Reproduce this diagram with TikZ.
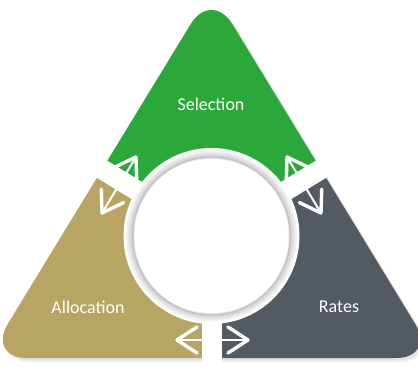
\documentclass[tikz,border=0pt]{standalone}
\usepackage{fontspec}
\setmainfont{Carlito}
\usetikzlibrary{calc}
\definecolor{selgreen}{RGB}{44,168,58}
\definecolor{allogold}{RGB}{184,165,99}
\definecolor{rategrey}{RGB}{84,90,97}
\begin{document}
\begin{tikzpicture}[x=1pt,y=-1pt,
  lbl/.style={text=white,font=\fontsize{18}{20}\selectfont},
  shaft/.style={draw=white, line width=2pt},
  chev/.style={draw=white, line width=3.4pt, line cap=round, line join=round},
  gap/.style={draw=white, line width=20pt}]
\useasboundingbox (0,0) rectangle (418,367);
\coordinate (C) at (211.5,236);
\def\tripath{(211.5,358) [rounded corners=40pt] -- (436,358) -- (211.5,-10) -- (-13,358) -- cycle}
% soft shadow
\foreach \o/\c in {4/5,3/8,2/11}{
  \fill[black!\c, xshift=\o pt, yshift=-\o pt] \tripath;
}
% pieces
\begin{scope}
  \clip (C) -- (-44.7,79.7) -- (-60,-100) -- (480,-100) -- (467.7,79.7) -- cycle;
  \fill[selgreen] \tripath;
\end{scope}
\begin{scope}
  \clip (C) -- (-44.7,79.7) -- (-100,79.7) -- (-100,500) -- (211.5,500) -- cycle;
  \fill[allogold] \tripath;
\end{scope}
\begin{scope}
  \clip (C) -- (467.7,79.7) -- (520,79.7) -- (520,500) -- (211.5,500) -- cycle;
  \fill[rategrey] \tripath;
\end{scope}
% gaps
\coordinate (gl) at (-44.7,79.7);
\coordinate (gr) at (467.7,79.7);
\coordinate (gb) at (211.5,500);
\draw[gap] (C) -- (gl);
\draw[gap] (C) -- (gr);
\draw[gap] (C) -- (gb);
% ring
\fill[white] (C) circle[radius=88];
\fill[black!5] (C) circle[radius=85.5];
\fill[black!10] (C) circle[radius=83.5];
\fill[black!16] (C) circle[radius=81.5];
\fill[black!24] (C) circle[radius=79.5];
\fill[black!8] (C) circle[radius=78];
\fill[white] (C) circle[radius=77];
% labels
\node[lbl] (sel) at (211,104) {Selection};
\node[lbl] (alo) at (88,307) {Allocation};
\node[lbl] (rat) at (339,307) {Rates};
% arrows
\coordinate (la) at (102,213);
\coordinate (lb) at (136,157);
\coordinate (ra) at (287,157);
\coordinate (rb) at (321,213);
\coordinate (ba) at (177,340);
\coordinate (bb) at (248,340);
\foreach \p/\q in {la/lb,ra/rb,ba/bb}{
  \draw[shaft] (\p) -- (\q);
  \draw[chev] ($(\p)!24pt!33:(\q)$) -- (\p) -- ($(\p)!24pt!-33:(\q)$);
  \draw[chev] ($(\q)!24pt!33:(\p)$) -- (\q) -- ($(\q)!24pt!-33:(\p)$);
}
\end{tikzpicture}
\end{document}
